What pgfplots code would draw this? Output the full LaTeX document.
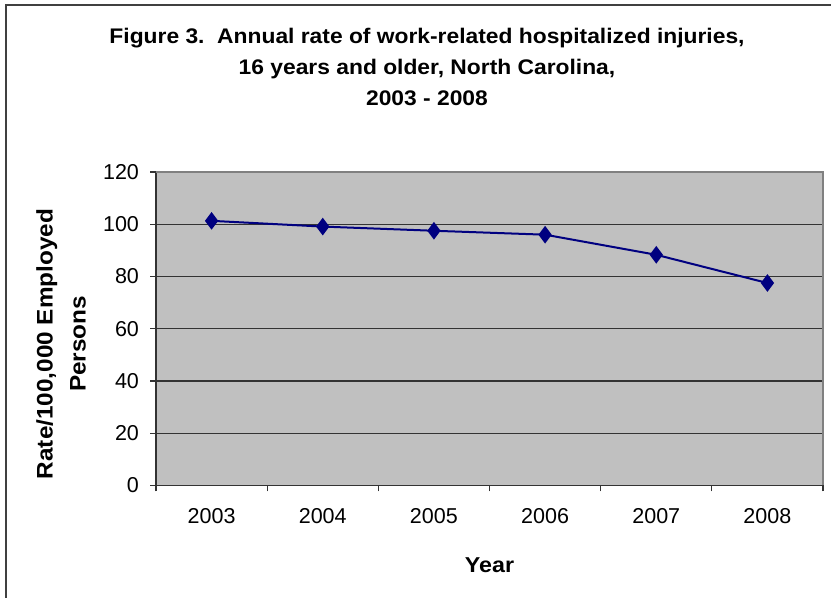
\documentclass[border=0pt]{standalone}
\usepackage{pgfplots}
\pgfplotsset{compat=1.18}
\usepackage{fontspec}
\setmainfont{Liberation Sans}
\newfontfamily\bfwide[FakeStretch=1.08]{Liberation Sans Bold}
\definecolor{plotgrey}{HTML}{C0C0C0}
\definecolor{navyblue}{HTML}{000080}
\definecolor{framegrey}{HTML}{808080}
\begin{document}
\begin{tikzpicture}[x=0.5bp,y=0.5bp]
\useasboundingbox (0,0) rectangle (831,598);
\draw[line width=1bp, color=black!75] (5.5,0) -- (5.5,592.5) -- (831,592.5);
\node[anchor=base, font=\bfwide\fontsize{10.6}{12}\selectfont] at (427,554) {Figure 3.\ \ Annual rate of work-related hospitalized injuries,};
\node[anchor=base, font=\bfwide\fontsize{10.6}{12}\selectfont] at (427,523) {16 years and older, North Carolina,};
\node[anchor=base, font=\bfwide\fontsize{10.6}{12}\selectfont] at (427,492) {2003 - 2008};
\begin{axis}[
  at={(78bp,56.25bp)}, anchor=south west,
  scale only axis, width=333.5bp, height=156.75bp,
  xmin=-0.5, xmax=5.5, ymin=0, ymax=120,
  axis x line*=bottom, axis y line*=left,
  axis line style={black!80, line width=0.6bp, -},
  axis background/.style={fill=plotgrey},
  xtick={-0.5,0.5,1.5,2.5,3.5,4.5,5.5},
  xticklabels={2003,2004,2005,2006,2007,2008},
  x tick label as interval,
  ytick={0,20,40,60,80,100,120},
  ymajorgrids,
  major grid style={black!80, line width=0.6bp},
  tick align=outside, major tick length=3bp,
  tick style={black!80, line width=0.6bp},
  /pgf/number format/assume math mode=true,
  ticklabel style={font=\fontsize{10.8}{13}\selectfont},
  xticklabel style={yshift=-5bp},
  yticklabel style={xshift=-2bp},
  xlabel={Year},
  xlabel style={font=\bfwide\fontsize{10.8}{13}\selectfont, at={(axis description cs:0.5,-0.255)}, anchor=center},
  ylabel={Rate/100,000 Employed\\Persons},
  ylabel style={align=center, font=\bfwide\fontsize{11.3}{16.5}\selectfont, at={(axis description cs:-0.1424,0.4514)}, anchor=center},
  clip=false,
]
\addplot[color=navyblue, line width=1bp, mark=diamond*, mark size=3.6bp, mark options={solid, fill=navyblue}]
  coordinates {(0,101.3) (1,99.1) (2,97.5) (3,96.0) (4,88.3) (5,77.5)};
\draw[framegrey, line width=1bp] (rel axis cs:0,1) -- (rel axis cs:1,1) -- (rel axis cs:1,0);
\end{axis}
\end{tikzpicture}
\end{document}
